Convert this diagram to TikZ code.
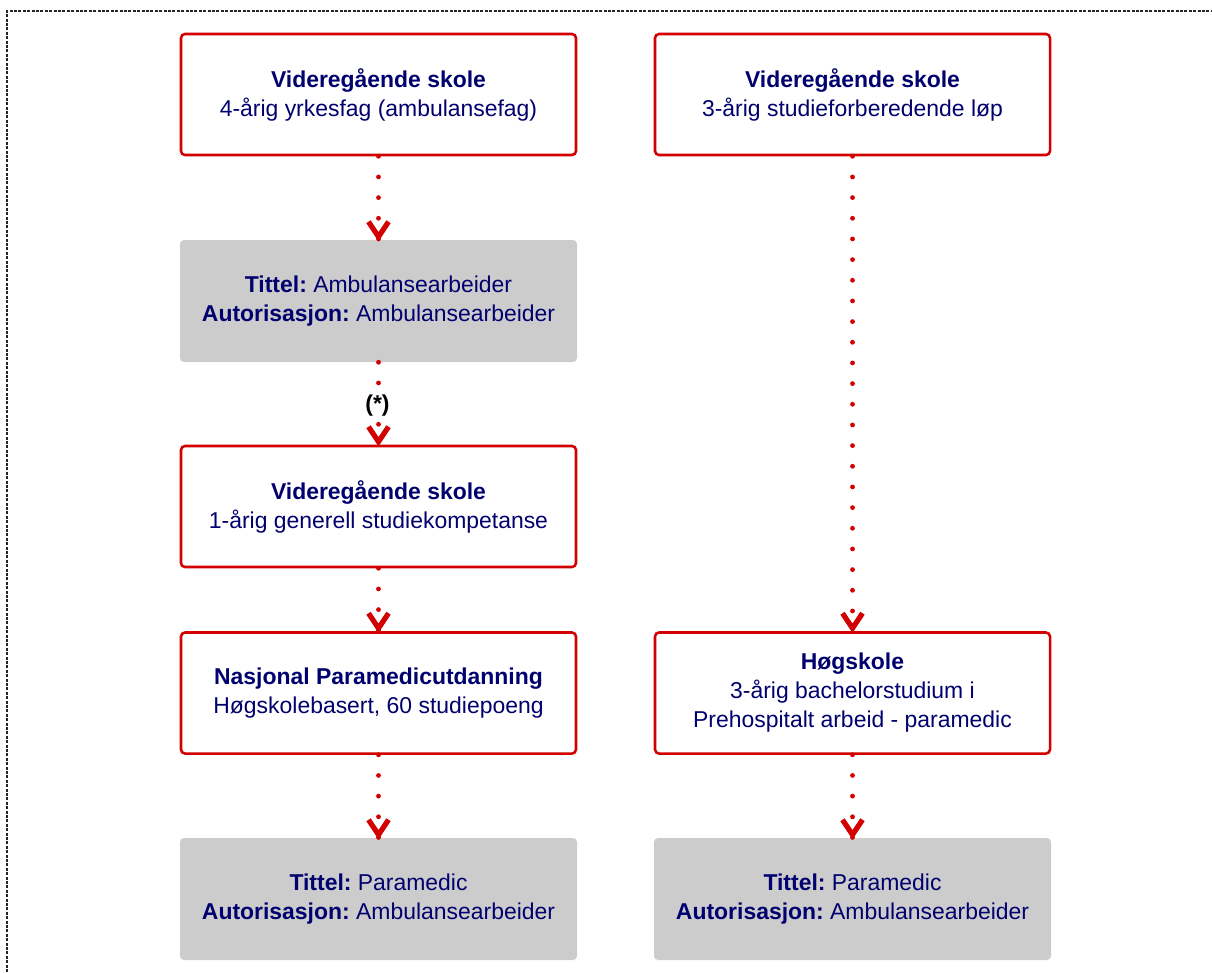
\documentclass[tikz,border=0pt]{standalone}
\usepackage{fontspec}
\setmainfont{Liberation Sans}
\definecolor{boxred}{RGB}{210,0,0}
\definecolor{navytext}{RGB}{0,0,110}
\definecolor{boxgray}{RGB}{204,204,204}
\newcommand{\boxfont}{\fontsize{17.2pt}{21.75pt}\selectfont}
\frenchspacing
\begin{document}
\begin{tikzpicture}[x=0.75pt,y=-0.75pt,
  box/.style={draw=boxred, line width=1.9pt, rounded corners=3pt, fill=white,
    minimum width=296.25pt, minimum height=90.75pt, align=center,
    text=navytext, font=\boxfont, inner sep=0pt},
  gbox/.style={fill=boxgray, rounded corners=3pt,
    minimum width=297.75pt, minimum height=91.5pt, align=center,
    text=navytext, font=\boxfont, inner sep=0pt},
  dotline/.style={draw=boxred, line width=3.6pt, line cap=round,
    dash pattern=on 0pt off 15.5pt},
  vtip/.style={draw=boxred, line width=3.9pt, line join=miter, line cap=butt},
  frame/.style={draw=black!85, line width=0.8pt, dash pattern=on 2.2pt off 1.1pt}]
\useasboundingbox (0,0) rectangle (1212,972);
\coordinate (fa) at (7,972);
\coordinate (fb) at (7,11);
\coordinate (fc) at (1212,11);
\draw[frame] (fa) -- (fb) -- (fc);

\node[box]  (l1) at (378.5,94.5) {\textbf{Videregående skole}\\4-årig yrkesfag (ambulansefag)};
\node[gbox] (l2) at (378.5,301)  {\textbf{Tittel:} Ambulansearbeider\\\textbf{Autorisasjon:} Ambulansearbeider};
\node[box]  (l3) at (378.5,506.5) {\textbf{Videregående skole}\\1-årig generell studiekompetanse};
\node[box]  (l4) at (378.5,693)  {\textbf{Nasjonal Paramedicutdanning}\\Høgskolebasert, 60 studiepoeng};
\node[gbox] (l5) at (378.5,899)  {\textbf{Tittel:} Paramedic\\\textbf{Autorisasjon:} Ambulansearbeider};

\node[box]  (r1) at (852.5,94.5) {\textbf{Videregående skole}\\3-årig studieforberedende løp};
\node[box]  (r4) at (852.5,693)  {\textbf{Høgskole}\\3-årig bachelorstudium i\\Prehospitalt arbeid - paramedic};
\node[gbox] (r5) at (852.5,899)  {\textbf{Tittel:} Paramedic\\\textbf{Autorisasjon:} Ambulansearbeider};

\foreach \a/\b in {l1/l2,l2/l3,l3/l4,l4/l5,r1/r4,r4/r5}{
  \draw[dotline] (\a.south) -- (\b.north);
}
\node[font=\boxfont\bfseries, text=black, fill=white, inner sep=1pt] (star) at (377.5,406) {(*)};
\foreach \b in {l2,l3,l4,l5,r4,r5}{
  \draw[vtip] ([shift={(-10,-18)}]\b.north) -- ([shift={(0,-3)}]\b.north) -- ([shift={(10,-18)}]\b.north);
}
\end{tikzpicture}
\end{document}
